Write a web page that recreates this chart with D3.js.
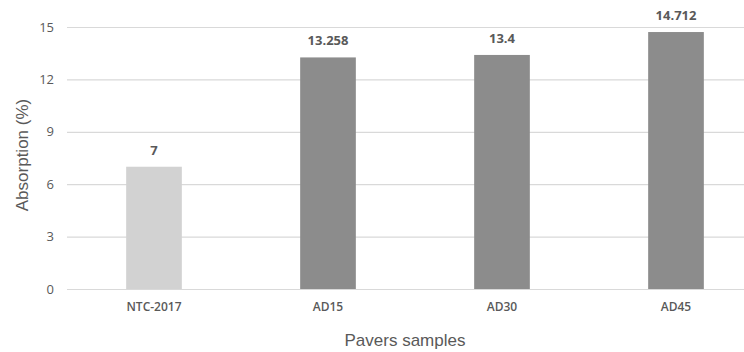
<!DOCTYPE html>
<html>
<head>
<meta charset="utf-8">
<script src="https://cdn.jsdelivr.net/npm/d3@7"></script>
<style>
  body { margin: 0; background: #fff; }
  svg text { font-family: "Open Sans", "Liberation Sans", sans-serif; }
</style>
</head>
<body>
<div id="chart"></div>
<script>
// data
const samples = ['NTC-2017', 'AD15', 'AD30', 'AD45'];
const absorption = [7, 13.258, 13.4, 14.712];
const valueLabels = ['7', '13.258', '13.4', '14.712'];
const yTicks = [0, 3, 6, 9, 12, 15];

const width = 744, height = 352;

const svg = d3.select('#chart')
  .append('svg')
  .attr('width', width)
  .attr('height', height);

const x = d3.scaleBand()
  .domain(samples)
  .range([67, 763])
  .paddingInner(0.68)
  .paddingOuter(0.34);

const y = d3.scaleLinear()
  .domain([0, 15])
  .range([289, 27]);

// gridlines
svg.append('g')
  .selectAll('line')
  .data(yTicks)
  .enter()
  .append('line')
  .attr('x1', 67)
  .attr('x2', width)
  .attr('y1', d => y(d) + 0.5)
  .attr('y2', d => y(d) + 0.5)
  .attr('stroke', '#d9d9d9')
  .attr('stroke-width', 1.2);

// y axis labels
const yAxis = svg.append('g')
  .attr('transform', 'translate(62,0)')
  .call(d3.axisLeft(y).tickValues(yTicks).tickSize(0).tickPadding(8));
yAxis.select('.domain').remove();
yAxis.selectAll('text')
  .attr('fill', '#595959')
  .style('font-size', '13px');

// bars
svg.selectAll('.bar')
  .data(absorption)
  .enter()
  .append('rect')
  .attr('class', 'bar')
  .attr('x', (d, i) => x(samples[i]))
  .attr('y', d => y(d))
  .attr('width', x.bandwidth())
  .attr('height', d => y(0) - y(d))
  .attr('fill', (d, i) => i === 0 ? '#d2d2d2' : '#8c8c8c');

// value labels
svg.selectAll('.val')
  .data(absorption)
  .enter()
  .append('text')
  .attr('class', 'val')
  .attr('x', (d, i) => x(samples[i]) + x.bandwidth() / 2)
  .attr('y', d => y(d) - 12)
  .attr('text-anchor', 'middle')
  .attr('fill', '#595959')
  .style('font-size', '13px')
  .style('font-weight', 'bold')
  .text((d, i) => valueLabels[i]);

// x axis labels
const xAxis = svg.append('g')
  .attr('transform', 'translate(0,' + y(0) + ')')
  .call(d3.axisBottom(x).tickSize(0).tickPadding(13));
xAxis.select('.domain').remove();
xAxis.selectAll('text')
  .attr('fill', '#595959')
  .style('font-size', '12px')
  .style('font-weight', '600');

// axis titles
svg.append('text')
  .attr('transform', 'translate(28,155) rotate(-90)')
  .attr('text-anchor', 'middle')
  .attr('fill', '#595959')
  .style('font-family', '"Liberation Sans", Arial, sans-serif')
  .style('font-size', '17px')
  .text('Absorption (%)');

svg.append('text')
  .attr('x', 405)
  .attr('y', 346)
  .attr('text-anchor', 'middle')
  .attr('fill', '#595959')
  .style('font-family', '"Liberation Sans", Arial, sans-serif')
  .style('font-size', '17px')
  .text('Pavers samples');
</script>
</body>
</html>
